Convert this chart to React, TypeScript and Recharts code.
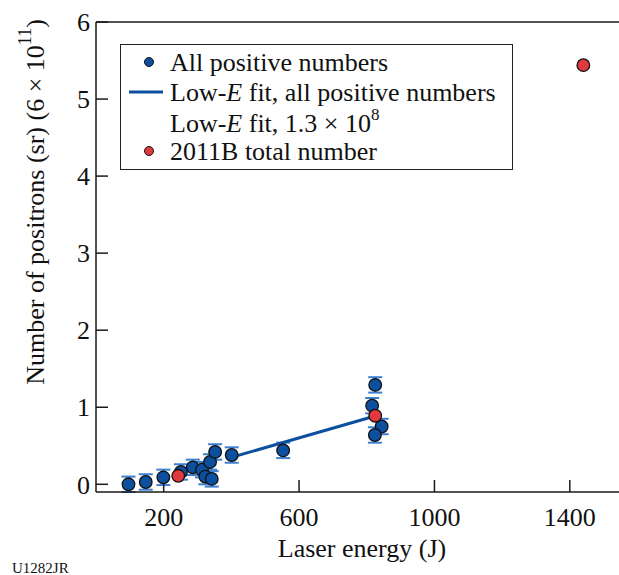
import React from 'react';
import { ScatterChart, Scatter, XAxis, YAxis, ErrorBar, Legend } from 'recharts';

// Blue: all positive numbers (with error bars)
const blueEnergy = [96, 147, 199, 251, 286, 313, 323, 342, 337, 352, 401, 553, 825, 816, 844, 824];
const bluePositrons = [0.0, 0.03, 0.09, 0.16, 0.22, 0.19, 0.1, 0.07, 0.29, 0.42, 0.38, 0.44, 1.29, 1.02, 0.75, 0.64];
const blueError = [0.1, 0.1, 0.1, 0.1, 0.1, 0.1, 0.1, 0.1, 0.1, 0.1, 0.1, 0.1, 0.1, 0.1, 0.1, 0.1];

// Red: 2011B total number
const redEnergy = [243, 825, 1440];
const redPositrons = [0.11, 0.89, 5.44];

// Low-E fit line
const fitEnergy = [400, 812];
const fitPositrons = [0.35, 0.87];

const xTicks = [200, 600, 1000, 1400];
const yTicks = [0, 1, 2, 3, 4, 5, 6];
const xDomain: [number, number] = [0, 1566];
const yDomain: [number, number] = [-0.1, 6];

const blueData = blueEnergy.map((x, i) => ({ x, y: bluePositrons[i], err: blueError[i] }));
const redData = redEnergy.map((x, i) => ({ x, y: redPositrons[i] }));
const fitData = fitEnergy.map((x, i) => ({ x, y: fitPositrons[i] }));

const FONT = "'Liberation Serif', 'Times New Roman', Times, 'DejaVu Serif', serif";
const BLUE = '#0b4f9e';
const RED = '#e0393e';
const ERR = '#3d7fd0';
const AXIS = '#1a1a1a';

const makeDot = (fill: string) => (props: any) => (
  <circle cx={props.cx} cy={props.cy} r={6.3} fill={fill} stroke="#111" strokeWidth={1.3} />
);

const txt = { fontFamily: FONT, fill: '#111' } as React.CSSProperties;

const LegendBox = () => (
  <div
    style={{
      width: 393,
      height: 126,
      boxSizing: 'border-box',
      border: '1.5px solid #222',
      background: '#fff',
    }}
  >
    <svg width={390} height={123} style={{ display: 'block' }}>
      <circle cx={28} cy={17} r={4.5} fill={BLUE} stroke="#111" strokeWidth={1} />
      <text x={49} y={17} fontSize={26} dominantBaseline="central" style={txt}>All positive numbers</text>
      <line x1={8} x2={42} y1={47} y2={47} stroke={BLUE} strokeWidth={3} />
      <text x={49} y={47} fontSize={26} dominantBaseline="central" style={txt}>
        Low-<tspan fontStyle="italic">E</tspan> fit, all positive numbers
      </text>
      <text x={49} y={78} fontSize={26} dominantBaseline="central" style={txt}>
        Low-<tspan fontStyle="italic">E</tspan> fit, 1.3 × 10<tspan dy={-9} fontSize={17}>8</tspan>
      </text>
      <circle cx={28} cy={106} r={4.5} fill={RED} stroke="#111" strokeWidth={1} />
      <text x={49} y={106} fontSize={26} dominantBaseline="central" style={txt}>2011B total number</text>
    </svg>
  </div>
);

const YLabel = () => (
  <text
    x={0}
    y={0}
    transform="translate(35,202) rotate(-90)"
    textAnchor="middle"
    dominantBaseline="central"
    fontSize={26}
    style={txt}
  >
    Number of positrons (sr) (6 × 10<tspan dy={-10} fontSize={18}>11</tspan>
    <tspan dy={10}>)</tspan>
  </text>
);

const XLabel = () => (
  <g>
    <text x={362} y={557} textAnchor="middle" fontSize={26} style={txt}>
      Laser energy (J)
    </text>
    <text x={12} y={573} fontSize={15} style={txt}>
      U1282JR
    </text>
  </g>
);

export default function App() {
  const tickStyle = { fill: '#111', fontSize: 26, fontFamily: FONT, style: { fontFamily: FONT } };
  return (
    <div
      style={{
        position: 'absolute',
        left: 0,
        top: 0,
        width: 619,
        height: 575,
        overflow: 'hidden',
        background: '#fff',
        fontFamily: FONT,
      }}
    >
      <ScatterChart width={636} height={575} margin={{ top: 2, right: 0, bottom: 0, left: 0 }} style={{ fontFamily: FONT }}>
        <XAxis
          xAxisId={0}
          type="number"
          dataKey="x"
          domain={xDomain}
          ticks={xTicks}
          interval={0}
          allowDataOverflow
          orientation="bottom"
          height={83}
          tickSize={-12}
          tickMargin={28}
          tick={tickStyle}
          axisLine={{ stroke: AXIS, strokeWidth: 1.5 }}
          tickLine={{ stroke: AXIS, strokeWidth: 1.5 }}
          label={XLabel}
        />
        <XAxis
          xAxisId="top"
          type="number"
          dataKey="x"
          domain={xDomain}
          ticks={xTicks}
          interval={0}
          allowDataOverflow
          orientation="top"
          height={20}
          tickSize={-12}
          tick={false}
          axisLine={{ stroke: AXIS, strokeWidth: 1.5 }}
          tickLine={{ stroke: AXIS, strokeWidth: 1.5 }}
        />
        <YAxis
          yAxisId={0}
          type="number"
          dataKey="y"
          domain={yDomain}
          ticks={yTicks}
          interval={0}
          allowDataOverflow
          orientation="left"
          width={96}
          tickSize={-12}
          tickMargin={18}
          tick={tickStyle}
          axisLine={{ stroke: AXIS, strokeWidth: 1.5 }}
          tickLine={{ stroke: AXIS, strokeWidth: 1.5 }}
          label={YLabel}
        />
        <YAxis
          yAxisId="right"
          type="number"
          dataKey="y"
          domain={yDomain}
          ticks={yTicks}
          interval={0}
          allowDataOverflow
          orientation="right"
          width={10}
          tickSize={-12}
          tick={false}
          axisLine={{ stroke: AXIS, strokeWidth: 1.5 }}
          tickLine={{ stroke: AXIS, strokeWidth: 1.5 }}
        />
        <Legend
          layout="horizontal"
          verticalAlign="middle"
          align="center"
          wrapperStyle={{ left: 120, top: 44, width: 393, height: 126 }}
          content={LegendBox}
        />
        <Scatter
          name="Low-E fit, all positive numbers"
          data={fitData}
          line={{ stroke: BLUE, strokeWidth: 3 }}
          shape={() => <g />}
          isAnimationActive={false}
        />
        <Scatter name="All positive numbers" data={blueData} shape={makeDot(BLUE)} isAnimationActive={false}>
          <ErrorBar dataKey="err" direction="y" width={7} stroke={ERR} strokeWidth={2} />
        </Scatter>
        <Scatter name="2011B total number" data={redData} shape={makeDot(RED)} isAnimationActive={false} />
      </ScatterChart>
    </div>
  );
}
